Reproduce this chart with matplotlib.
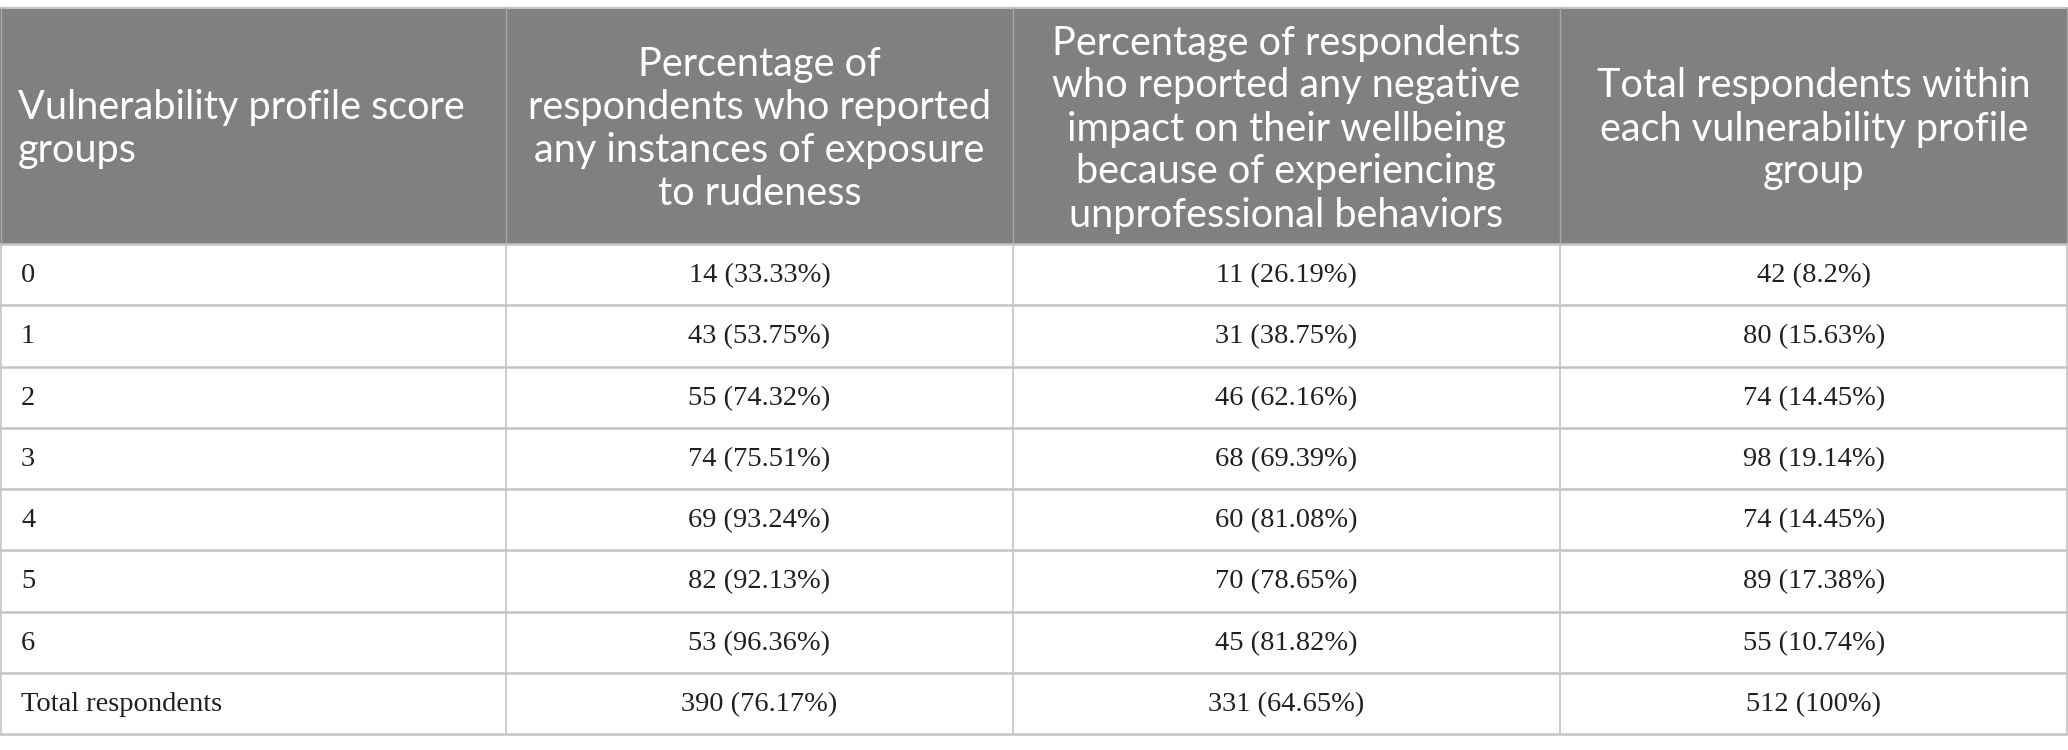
import matplotlib
matplotlib.use("Agg")
import matplotlib.pyplot as plt
from matplotlib.patches import Rectangle

# ---- data ----
groups = ["0", "1", "2", "3", "4", "5", "6", "Total respondents"]
rude_n = [14, 43, 55, 74, 69, 82, 53, 390]
rude_pct = ["33.33", "53.75", "74.32", "75.51", "93.24", "92.13", "96.36", "76.17"]
neg_n = [11, 31, 46, 68, 60, 70, 45, 331]
neg_pct = ["26.19", "38.75", "62.16", "69.39", "81.08", "78.65", "81.82", "64.65"]
tot_n = [42, 80, 74, 98, 74, 89, 55, 512]
tot_pct = ["8.2", "15.63", "14.45", "19.14", "14.45", "17.38", "10.74", "100"]

headers = [
    "Vulnerability profile score\ngroups",
    "Percentage of\nrespondents who reported\nany instances of exposure\nto rudeness",
    "Percentage of respondents\nwho reported any negative\nimpact on their wellbeing\nbecause of experiencing\nunprofessional behaviors",
    "Total respondents within\neach vulnerability profile\ngroup",
]

# ---- layout (pixels) ----
W, H = 2068, 750
col_edges = [0, 506, 1013, 1560, 2068]
top = 8
header_bottom = 244
row_h = 61.25

fig = plt.figure(figsize=(W / 100, H / 100), dpi=100)
ax = fig.add_axes([0, 0, 1, 1])
ax.set_xlim(0, W)
ax.set_ylim(H, 0)
ax.axis("off")

header_bg = "#808080"
line_c = "#c4c4c4"
text_c = "#231f20"

# header background
ax.add_patch(Rectangle((0, top), W, header_bottom - top, facecolor=header_bg, edgecolor="none", zorder=1))

n_rows = len(groups)
bottom = header_bottom + n_rows * row_h

# horizontal lines
ax.plot([0, W], [top, top], color=line_c, lw=1.5, zorder=3)
for i in range(n_rows + 1):
    y = header_bottom + i * row_h
    ax.plot([0, W], [y, y], color=line_c, lw=1.8, zorder=3)
# vertical lines
for j, x in enumerate(col_edges):
    xx = min(max(x, 0.75), W - 0.75)
    ax.plot([xx, xx], [top, header_bottom], color="#a8a8a8", lw=1.0, zorder=3)
    ax.plot([xx, xx], [header_bottom, bottom], color=line_c, lw=1.2, zorder=3)

# header text
hy = (top + header_bottom) / 2 + 3
hfs = 28.5
for j, h in enumerate(headers):
    if j == 0:
        ax.text(col_edges[0] + 18, hy, h, ha="left", va="center", color="white",
                fontsize=hfs, family="Lato", linespacing=1.2, zorder=4)
    else:
        cx = (col_edges[j] + col_edges[j + 1]) / 2
        ax.text(cx, hy, h, ha="center", va="center", color="white",
                fontsize=hfs, family="Lato", linespacing=1.2, multialignment="center", zorder=4)

# body text
bfs = 20.5
for i in range(n_rows):
    cy = header_bottom + (i + 0.5) * row_h + 1
    cells = [groups[i],
             f"{rude_n[i]} ({rude_pct[i]}%)",
             f"{neg_n[i]} ({neg_pct[i]}%)",
             f"{tot_n[i]} ({tot_pct[i]}%)"]
    for j, c in enumerate(cells):
        if j == 0:
            ax.text(col_edges[0] + 21, cy, c, ha="left", va="center", color=text_c,
                    fontsize=bfs, family="Liberation Serif", zorder=4)
        else:
            cx = (col_edges[j] + col_edges[j + 1]) / 2
            ax.text(cx, cy, c, ha="center", va="center", color=text_c,
                    fontsize=bfs, family="Liberation Serif", zorder=4)

fig.savefig("out.png", dpi=100, facecolor="white")
